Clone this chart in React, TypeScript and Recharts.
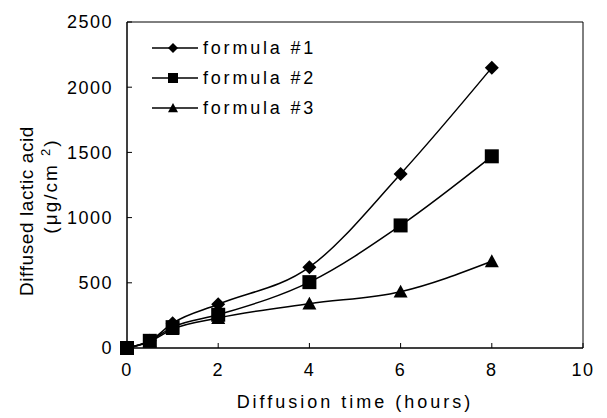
import { LineChart, Line, XAxis, YAxis, ReferenceArea } from "recharts";

const hours = [0, 0.5, 1, 2, 4, 6, 8];
const formula1 = [0, 55, 190, 335, 620, 1335, 2150];
const formula2 = [0, 55, 160, 255, 505, 940, 1470];
const formula3 = [0, 50, 145, 230, 340, 432, 665];
const xTicks = [0, 2, 4, 6, 8, 10];
const yTicks = [0, 500, 1000, 1500, 2000, 2500];
const seriesNames = ["formula #1", "formula #2", "formula #3"];

const data = hours.map((h, i) => ({
  h,
  f1: formula1[i],
  f2: formula2[i],
  f3: formula3[i],
}));

const font = "'Liberation Sans', Arial, sans-serif";

const Marker = ({ kind, cx, cy, r }: { kind: number; cx: number; cy: number; r: number }) => {
  if (kind === 0)
    return <polygon points={`${cx},${cy - r} ${cx + r},${cy} ${cx},${cy + r} ${cx - r},${cy}`} fill="#000" />;
  if (kind === 1)
    return <rect x={cx - r} y={cy - r} width={2 * r} height={2 * r} fill="#000" />;
  return <polygon points={`${cx},${cy - r} ${cx + r},${cy + r * 0.85} ${cx - r},${cy + r * 0.85}`} fill="#000" />;
};

const dotFor = (kind: number) => (p: any) => (
  <Marker key={`${kind}-${p.index}`} kind={kind} cx={p.cx} cy={p.cy} r={7} />
);

const LegendBox = () => (
  <svg width={180} height={90} style={{ position: "absolute", left: 150, top: 35 }}>
    {seriesNames.map((n, i) => {
      const y = 13 + i * 30;
      return (
        <g key={n}>
          <line x1={2} x2={48} y1={y} y2={y} stroke="#000" strokeWidth={1.5} />
          <Marker kind={i} cx={23} cy={y} r={5} />
          <text x={53} y={y + 6} fontSize={18} fontFamily={font} letterSpacing={2.8} fill="#000">
            {n}
          </text>
        </g>
      );
    })}
  </svg>
);

export default function App() {
  return (
    <div style={{ position: "absolute", left: 0, top: 0, width: 607, height: 418, background: "#fff" }}>
      <LineChart width={607} height={418} data={data} margin={{ top: 22, right: 24, bottom: 0, left: 0 }}>
        <ReferenceArea x1={0} x2={10} y1={0} y2={2500} fill="none" stroke="#000" strokeWidth={1} />
        <XAxis
          dataKey="h"
          type="number"
          domain={[0, 10]}
          ticks={xTicks}
          height={70}
          tickSize={-5}
          tickMargin={20}
          stroke="#000"
          tick={{ fill: "#000", fontSize: 18, fontFamily: font, letterSpacing: 1.5 }}
          label={{
            value: "Diffusion time (hours)",
            position: "insideBottom",
            offset: 10,
            fill: "#000",
            fontSize: 18,
            fontFamily: font,
            letterSpacing: 3,
          }}
        />
        <YAxis
          type="number"
          domain={[0, 2500]}
          ticks={yTicks}
          width={127}
          tickSize={-5}
          tickMargin={19}
          stroke="#000"
          tick={{ fill: "#000", fontSize: 18, fontFamily: font, letterSpacing: 1.5 }}
          label={() => (
            <g fontFamily={font} fontSize={19} fill="#000">
              <text x={0} y={0} transform="translate(33,211) rotate(-90)" textAnchor="middle" letterSpacing={0.6}>
                Diffused lactic acid
              </text>
              <text x={0} y={0} transform="translate(57,186) rotate(-90)" textAnchor="middle" letterSpacing={2}>
                (μg/cm <tspan dy={-7} fontSize={13}>2</tspan>
                <tspan dy={7}>)</tspan>
              </text>
            </g>
          )}
        />
        <Line dataKey="f1" type="monotone" stroke="#000" strokeWidth={1.5} dot={dotFor(0)} isAnimationActive={false} />
        <Line dataKey="f2" type="monotone" stroke="#000" strokeWidth={1.5} dot={dotFor(1)} isAnimationActive={false} />
        <Line dataKey="f3" type="monotone" stroke="#000" strokeWidth={1.5} dot={dotFor(2)} isAnimationActive={false} />
      </LineChart>
      <LegendBox />
    </div>
  );
}
